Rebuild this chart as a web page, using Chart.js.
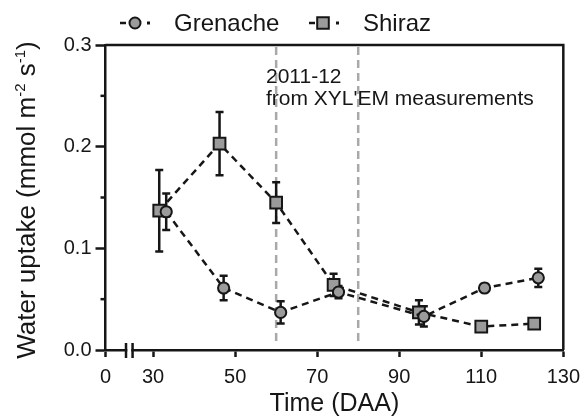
<!DOCTYPE html>
<html><head><meta charset="utf-8">
<script src="https://cdn.jsdelivr.net/npm/chart.js@4/dist/chart.umd.min.js"></script>
<style>html,body{margin:0;padding:0;background:#fff}#wrap{width:588px;height:419px}</style>
</head><body><div id="wrap"><canvas id="c" width="588" height="419"></canvas></div>
<script>
// ---- data ----
const seriesNames = ['Grenache', 'Shiraz'];
const grenacheX   = [33.2, 47.2, 61.1, 75.2, 96.0, 110.8, 123.9];
const grenacheY   = [0.136, 0.061, 0.037, 0.057, 0.033, 0.061, 0.071];
const grenacheErr = [0.018, 0.012, 0.011, 0.006, 0.010, 0.004, 0.009];
const shirazX     = [31.5, 46.2, 60.0, 74.0, 94.8, 110.0, 122.9];
const shirazY     = [0.137, 0.203, 0.145, 0.064, 0.037, 0.023, 0.026];
const shirazErr   = [0.040, 0.031, 0.020, 0.011, 0.012, 0.003, 0.002];
const xTickLabels = [0, 30, 50, 70, 90, 110, 130];
const yTickValues = [0, 0.1, 0.2, 0.3];
const yMinorTicks = [0.05, 0.15, 0.25];
const refLines    = [60, 80];
const noteLines   = ['2011-12', "from XYL'EM measurements"];
const xAxisStart  = 18.4;          // broken axis: label "0" sits at the axis origin
const xBreak      = [23.4, 25.0];  // axis break marks
const FONT = '"Liberation Sans", Arial, Helvetica, sans-serif';
const INK = '#161616';
const MARK_FILL = '#9b9b9b';

function pts(xs, ys){ return xs.map((v,i)=>({x:v, y:ys[i]})); }
const errs = [grenacheErr, shirazErr];

const deco = {
  id: 'deco',
  beforeDatasetsDraw(chart){
    const {ctx, chartArea:a, scales:{x, y}} = chart;
    ctx.save();
    // reference dashed lines
    ctx.strokeStyle = '#a9a9a9'; ctx.lineWidth = 2.5; ctx.setLineDash([8,5]);
    refLines.forEach(v => {
      const px = x.getPixelForValue(v);
      ctx.beginPath(); ctx.moveTo(px, a.top + 2); ctx.lineTo(px, a.bottom - 6); ctx.stroke();
    });
    ctx.setLineDash([]);
    // note text
    ctx.fillStyle = INK; ctx.font = '21px ' + FONT; ctx.textAlign = 'left'; ctx.textBaseline = 'alphabetic';
    ctx.fillText(noteLines[0], 266, 83);
    ctx.fillText(noteLines[1], 266, 105);
    // error bars
    ctx.strokeStyle = INK; ctx.lineWidth = 2.5;
    chart.data.datasets.forEach((ds, di) => {
      ds.data.forEach((p, i) => {
        const e = errs[di][i];
        const px = x.getPixelForValue(p.x);
        const top = y.getPixelForValue(p.y + e), bot = y.getPixelForValue(p.y - e);
        ctx.beginPath();
        ctx.moveTo(px, top); ctx.lineTo(px, bot);
        ctx.moveTo(px - 4, top); ctx.lineTo(px + 4, top);
        ctx.moveTo(px - 4, bot); ctx.lineTo(px + 4, bot);
        ctx.stroke();
      });
    });
    ctx.restore();
  },
  afterDraw(chart){
    const {ctx, chartArea:a, scales:{x, y}} = chart;
    ctx.save();
    ctx.strokeStyle = INK; ctx.lineWidth = 2.5;
    // frame top & right
    ctx.beginPath();
    ctx.moveTo(a.left, a.top); ctx.lineTo(a.right, a.top); ctx.lineTo(a.right, a.bottom);
    ctx.stroke();
    // minor y ticks
    yMinorTicks.forEach(v => {
      const py = y.getPixelForValue(v);
      ctx.beginPath(); ctx.moveTo(a.left - 5, py); ctx.lineTo(a.left, py); ctx.stroke();
    });
    // axis break
    const b1 = x.getPixelForValue(xBreak[0]), b2 = x.getPixelForValue(xBreak[1]);
    ctx.fillStyle = '#fff';
    ctx.fillRect(b1 + 1.3, a.bottom - 3, b2 - b1 - 2.6, 6);
    ctx.beginPath();
    ctx.moveTo(b1, a.bottom - 7); ctx.lineTo(b1, a.bottom + 8);
    ctx.moveTo(b2, a.bottom - 7); ctx.lineTo(b2, a.bottom + 8);
    ctx.stroke();
    // y axis title with superscripts
    ctx.fillStyle = INK;
    const big = '26px ' + FONT, small = '15px ' + FONT;
    const parts = [['Water uptake (mmol m', big, 0], ['-2', small, -10], [' s', big, 0], ['-1', small, -10], [')', big, 0]];
    let total = 0;
    parts.forEach(p => { ctx.font = p[1]; p.push(ctx.measureText(p[0]).width); total += p[3]; });
    ctx.translate(35, 200); ctx.rotate(-Math.PI/2);
    let cx = -total/2;
    ctx.textAlign = 'left'; ctx.textBaseline = 'alphabetic';
    parts.forEach(p => { ctx.font = p[1]; ctx.fillText(p[0], cx, p[2]); cx += p[3]; });
    ctx.setTransform(1,0,0,1,0,0);
    // legend
    const legX = [120, 309], legY = 23;
    chart.data.datasets.forEach((ds, i) => {
      const sx = legX[i];
      ctx.strokeStyle = INK; ctx.lineWidth = 2.5; ctx.fillStyle = INK;
      ctx.beginPath(); ctx.moveTo(sx, legY); ctx.lineTo(sx + 6, legY); ctx.stroke();
      ctx.fillRect(sx + 27, legY - 1.5, 3, 3);
      ctx.fillStyle = MARK_FILL; ctx.lineWidth = 2;
      ctx.beginPath();
      if (ds.pointStyle === 'rect') ctx.rect(sx + 14 - 5.8, legY - 5.8, 11.6, 11.6);
      else ctx.arc(sx + 15, legY, 5.5, 0, Math.PI*2);
      ctx.fill(); ctx.stroke();
      ctx.fillStyle = INK; ctx.font = '24px ' + FONT; ctx.textBaseline = 'middle';
      ctx.fillText(ds.label, sx + 54, legY + 1);
    });
    ctx.restore();
  }
};

const common = {
  showLine: true, borderColor: INK, borderWidth: 2.5, borderDash: [7,5], tension: 0, fill: false,
  pointBackgroundColor: MARK_FILL, pointBorderColor: INK, pointBorderWidth: 2
};

new Chart(document.getElementById('c'), {
  type: 'scatter',
  data: {
    datasets: [
      Object.assign({label: seriesNames[0], data: pts(grenacheX, grenacheY), pointStyle: 'circle', pointRadius: 5.6, pointHoverRadius: 5.6}, common),
      Object.assign({label: seriesNames[1], data: pts(shirazX, shirazY), pointStyle: 'rect', pointRadius: 8.3, pointHoverRadius: 8.3}, common)
    ]
  },
  options: {
    responsive: false, animation: false, devicePixelRatio: 1,
    layout: {padding: {top: 45, right: 21, bottom: 0, left: 0}},
    plugins: {legend: {display: false}, tooltip: {enabled: false}},
    scales: {
      x: {
        type: 'linear', min: xAxisStart, max: 130,
        afterBuildTicks: s => { s.ticks = xTickLabels.map(v => ({value: v === 0 ? xAxisStart : v})); },
        afterFit: s => { s.height = 69; },
        ticks: {autoSkip: false, maxRotation: 0, padding: 8, color: INK, font: {family: FONT, size: 20},
                callback: v => (v < 20 ? '0' : String(v))},
        grid: {drawOnChartArea: false, drawTicks: true, tickLength: 7, tickWidth: 2.5, tickColor: INK},
        border: {display: true, color: INK, width: 2.5},
        title: {display: true, text: 'Time (DAA)', color: INK, font: {family: FONT, size: 25}, padding: {top: 0, bottom: 0}}
      },
      y: {
        type: 'linear', min: 0, max: 0.3,
        afterBuildTicks: s => { s.ticks = yTickValues.map(v => ({value: v})); },
        afterFit: s => { s.width = 105.5; },
        ticks: {padding: 4, color: INK, font: {family: FONT, size: 20}, callback: v => Number(v).toFixed(1)},
        grid: {drawOnChartArea: false, drawTicks: true, tickLength: 10, tickWidth: 2.5, tickColor: INK},
        border: {display: true, color: INK, width: 2.5}
      }
    }
  },
  plugins: [deco]
});
</script></body></html>
